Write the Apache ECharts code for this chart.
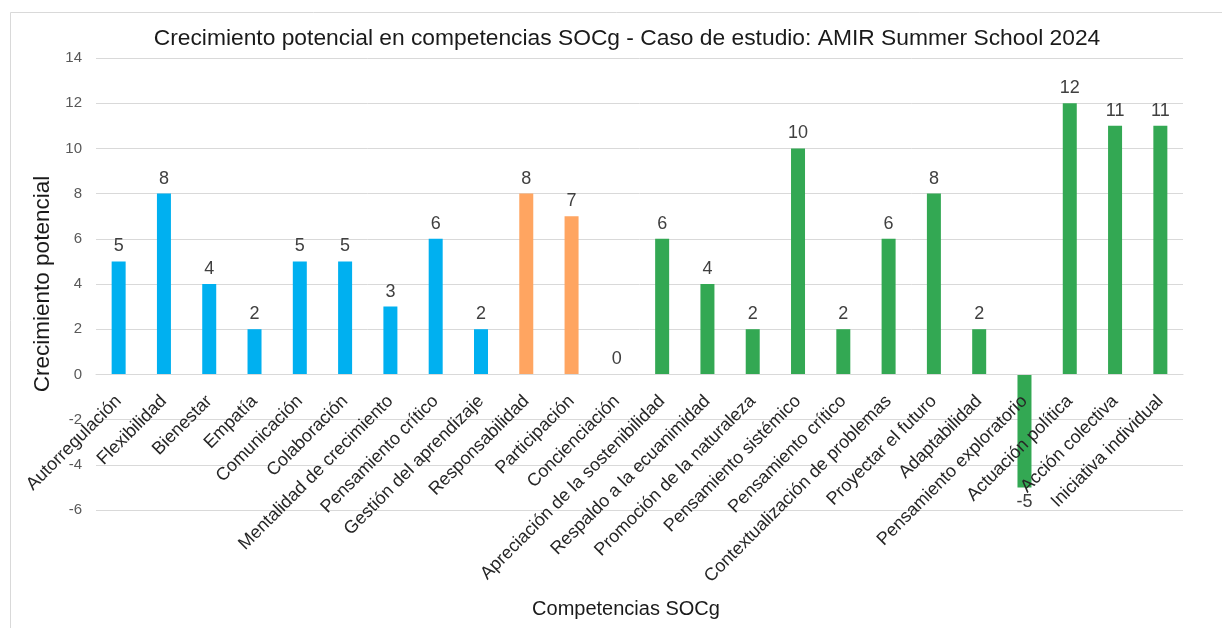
<!DOCTYPE html>
<html>
<head>
<meta charset="utf-8">
<script src="https://cdn.jsdelivr.net/npm/echarts@6/dist/echarts.min.js"></script>
<style>
html,body{margin:0;padding:0;background:#fff;}
#chart{width:1222px;height:628px;}
</style>
</head>
<body>
<div id="chart"></div>
<script>
const titleText = 'Crecimiento potencial en competencias SOCg - Caso de estudio: AMIR Summer School 2024';
const xAxisName = 'Competencias SOCg';
const yAxisName = 'Crecimiento potencial';
const categories = [
  'Autorregulación','Flexibilidad','Bienestar','Empatía','Comunicación','Colaboración',
  'Mentalidad de crecimiento','Pensamiento crítico','Gestión del aprendizaje',
  'Responsabilidad','Participación','Concienciación',
  'Apreciación de la sostenibilidad','Respaldo a la ecuanimidad','Promoción de la naturaleza',
  'Pensamiento sistémico','Pensamiento crítico','Contextualización de problemas',
  'Proyectar el futuro','Adaptabilidad','Pensamiento exploratorio','Actuación política',
  'Acción colectiva','Iniciativa individual'
];
const values = [5,8,4,2,5,5,3,6,2,8,7,0,6,4,2,10,2,6,8,2,-5,12,11,11];
const groups = ['blue','blue','blue','blue','blue','blue','blue','blue','blue',
  'orange','orange','orange',
  'green','green','green','green','green','green','green','green','green','green','green','green'];
const groupColors = {blue:'#00B0F0', orange:'#FFA561', green:'#33A853'};
const yMin = -6, yMax = 14, yStep = 2;

const chart = echarts.init(document.getElementById('chart'));
const font = '"Liberation Sans", Arial, sans-serif';
const gridTop = 58, gridBottom = 118, chartH = 628;
const plotH = chartH - gridTop - gridBottom;
const zeroOffset = -plotH * (0 - yMin) / (yMax - yMin);
chart.setOption({
  animation:false,
  backgroundColor:'#fff',
  graphic:[{type:'rect', shape:{x:10.5,y:12.5,width:1240,height:660}, style:{fill:'none', stroke:'#d9d9d9', lineWidth:1}, silent:true}],
  title:[
    {text:titleText, left:622, top:22, textAlign:'center', textStyle:{fontFamily:font, fontSize:22.8, fontWeight:'normal', color:'#1a1a1a'}},
    {text:xAxisName, left:621, top:594, textAlign:'center', textStyle:{fontFamily:font, fontSize:20, fontWeight:'normal', color:'#1a1a1a'}}
  ],
  grid:{left:96, right:39, top:gridTop, bottom:gridBottom, containLabel:false, outerBoundsMode:'none'},
  xAxis:{
    type:'category', data:categories, offset: zeroOffset, z:5,
    axisLine:{onZero:false, lineStyle:{color:'#d9d9d9', width:1}},
    axisTick:{show:false},
    axisLabel:{rotate:45, interval:0, fontFamily:font, fontSize:18, color:'#262626', margin:24}
  },
  yAxis:{
    type:'value', min:yMin, max:yMax, interval:yStep,
    name:yAxisName, nameLocation:'middle', nameGap:29,
    nameTextStyle:{fontFamily:font, fontSize:22.5, color:'#1a1a1a'},
    axisLine:{show:false}, axisTick:{show:false},
    axisLabel:{fontFamily:font, fontSize:15, color:'#595959', margin:14},
    splitLine:{lineStyle:{color:'#d9d9d9', width:1}}
  },
  series:[{
    type:'bar', barWidth:14, z:2,
    data: values.map((v,i)=>({value:v, itemStyle:{color:groupColors[groups[i]]},
      label:{position: v<0 ? 'bottom' : 'top'}})),
    label:{show:true, fontFamily:font, fontSize:18, color:'#404040', distance:6}
  }]
});
</script>
</body>
</html>
